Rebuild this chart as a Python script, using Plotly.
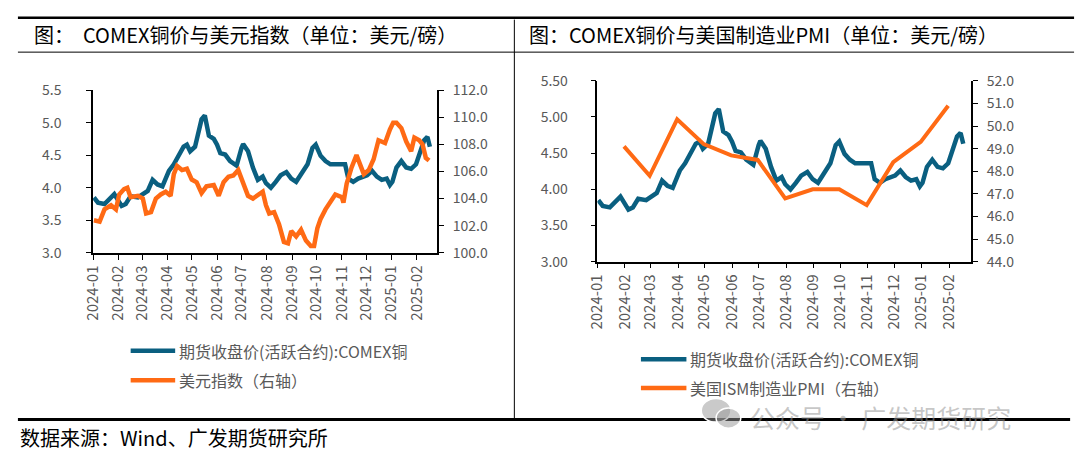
import plotly.graph_objects as go

W, H = 1080, 462

BLUE = "#0A5F80"
ORANGE = "#FF6A14"
GREY = "#595959"
FONT = "Noto Sans CJK SC"

# COMEX copper, active contract (USD/lb)
copper_dates = [
    "2024-01-02", "2024-01-07", "2024-01-15", "2024-01-23", "2024-01-27", "2024-01-31",
    "2024-02-05", "2024-02-10", "2024-02-16", "2024-02-25", "2024-03-02", "2024-03-08",
    "2024-03-14", "2024-03-20", "2024-03-26", "2024-03-30", "2024-04-03", "2024-04-09",
    "2024-04-15", "2024-04-21", "2024-04-25", "2024-04-29", "2024-05-05", "2024-05-09",
    "2024-05-13", "2024-05-17", "2024-05-22", "2024-05-28", "2024-06-01", "2024-06-05",
    "2024-06-11", "2024-06-17", "2024-06-25", "2024-07-01", "2024-07-03", "2024-07-09",
    "2024-07-15", "2024-07-21", "2024-07-27", "2024-07-31", "2024-08-06", "2024-08-12",
    "2024-08-18", "2024-08-25", "2024-08-31", "2024-09-06", "2024-09-14", "2024-09-20",
    "2024-09-26", "2024-09-30", "2024-10-06", "2024-10-12", "2024-10-18", "2024-10-26",
    "2024-11-01", "2024-11-05", "2024-11-09", "2024-11-15", "2024-11-21", "2024-12-02",
    "2024-12-08", "2024-12-14", "2024-12-20", "2024-12-26", "2024-12-30", "2025-01-02",
    "2025-01-07", "2025-01-13", "2025-01-19", "2025-01-25", "2025-01-31", "2025-02-06",
    "2025-02-10", "2025-02-14", "2025-02-17",
]
copper = [
    3.85, 3.77, 3.75, 3.85, 3.90, 3.82,
    3.72, 3.75, 3.87, 3.85, 3.90, 3.95,
    4.12, 4.05, 4.02, 4.14, 4.26, 4.36,
    4.49, 4.63, 4.66, 4.56, 4.63, 4.85,
    5.05, 5.11, 4.80, 4.75, 4.66, 4.53,
    4.51, 4.41, 4.34, 4.61, 4.67, 4.56,
    4.31, 4.12, 4.17, 4.07, 4.00, 4.09,
    4.19, 4.24, 4.14, 4.09, 4.26, 4.36,
    4.61, 4.66, 4.49, 4.41, 4.36, 4.36,
    4.36, 4.36, 4.14, 4.09, 4.14, 4.19,
    4.26, 4.17, 4.12, 4.14, 4.04, 4.09,
    4.31, 4.41, 4.31, 4.29, 4.36, 4.56,
    4.73, 4.78, 4.63,
]

# US dollar index (right axis, left chart)
dxy_dates = [
    "2024-01-02", "2024-01-09", "2024-01-15", "2024-01-23", "2024-01-29", "2024-02-02",
    "2024-02-08", "2024-02-12", "2024-02-16", "2024-02-25", "2024-03-02", "2024-03-06",
    "2024-03-12", "2024-03-18", "2024-03-24", "2024-03-30", "2024-04-05", "2024-04-09",
    "2024-04-13", "2024-04-19", "2024-04-25", "2024-05-01", "2024-05-07", "2024-05-13",
    "2024-05-19", "2024-05-28", "2024-06-03", "2024-06-09", "2024-06-15", "2024-06-21",
    "2024-06-27", "2024-07-03", "2024-07-09", "2024-07-15", "2024-07-21", "2024-07-27",
    "2024-07-31", "2024-08-04", "2024-08-10", "2024-08-16", "2024-08-22", "2024-08-27",
    "2024-08-31", "2024-09-06", "2024-09-12", "2024-09-18", "2024-09-24", "2024-09-28",
    "2024-10-02", "2024-10-06", "2024-10-12", "2024-10-18", "2024-10-24", "2024-11-01",
    "2024-11-03", "2024-11-07", "2024-11-13", "2024-11-19", "2024-11-23", "2024-11-28",
    "2024-12-04", "2024-12-10", "2024-12-16", "2024-12-24", "2024-12-30", "2025-01-03",
    "2025-01-07", "2025-01-13", "2025-01-19", "2025-01-25", "2025-01-29", "2025-02-04",
    "2025-02-08", "2025-02-12", "2025-02-16",
]
dxy = [
    102.4, 102.3, 103.2, 103.5, 103.2, 104.3,
    104.7, 104.8, 104.1, 104.2, 104.0, 102.9,
    103.0, 104.0, 104.3, 104.5, 104.2, 105.8,
    106.4, 106.1, 106.2, 105.4, 105.2, 104.4,
    104.9, 105.0, 104.2, 105.2, 105.6, 105.7,
    106.1, 105.2, 104.2, 104.0, 104.3, 104.5,
    103.5, 102.9, 103.0, 102.1, 100.8, 100.7,
    101.6, 101.2, 101.7, 100.9, 100.5, 100.5,
    101.8, 102.5, 103.2, 103.8, 104.3, 104.1,
    103.7, 105.1, 106.3, 107.2, 106.5, 105.8,
    106.1, 106.9, 108.3, 108.1, 109.1, 109.6,
    109.6, 109.2, 108.2, 107.5, 108.5, 108.3,
    108.0, 107.0, 106.8,
]

# US ISM manufacturing PMI (right axis, right chart), month-end
pmi_dates = [
    "2024-01-31", "2024-02-29", "2024-03-31", "2024-04-30", "2024-05-31", "2024-06-30",
    "2024-07-31", "2024-08-31", "2024-09-30", "2024-10-31", "2024-11-30", "2024-12-31",
    "2025-01-31",
]
pmi = [49.1, 47.8, 50.3, 49.2, 48.7, 48.5, 46.8, 47.2, 47.2, 46.5, 48.4, 49.3, 50.9]

X_RANGE = ["2024-01-01", "2025-02-26"]


def px(x):
    return x / W


def py(y):
    return 1 - y / H


fig = go.Figure()

fig.add_trace(go.Scatter(x=copper_dates, y=copper, mode="lines", xaxis="x", yaxis="y",
                         line=dict(color=BLUE, width=4.5), name="期货收盘价(活跃合约):COMEX铜"))
fig.add_trace(go.Scatter(x=dxy_dates, y=dxy, mode="lines", xaxis="x", yaxis="y2",
                         line=dict(color=ORANGE, width=4.5), name="美元指数（右轴）"))
fig.add_trace(go.Scatter(x=copper_dates, y=copper, mode="lines", xaxis="x2", yaxis="y3",
                         line=dict(color=BLUE, width=4.5), name="期货收盘价(活跃合约):COMEX铜"))
fig.add_trace(go.Scatter(x=pmi_dates, y=pmi, mode="lines", xaxis="x2", yaxis="y4",
                         line=dict(color=ORANGE, width=4), name="美国ISM制造业PMI（右轴）"))

tick_font = dict(family=FONT, size=14, color=GREY)
axis_common = dict(
    showline=True, linecolor="black", linewidth=1.5, showgrid=False, zeroline=False,
    ticks="outside", ticklen=5, tickcolor="black", tickwidth=1.2, tickfont=tick_font,
)
x_common = dict(
    axis_common, type="date", range=X_RANGE, tick0="2024-01-01", dtick="M1",
    tickformat="%Y-%m", tickangle=-90, tickfont=dict(tick_font, size=15),
)

left_dom = [px(82), px(430)]
right_dom = [px(592), px(970)]

fig.update_layout(
    xaxis=dict(x_common, domain=left_dom, anchor="y"),
    yaxis=dict(axis_common, domain=[py(252.7), py(82.7)], range=[3.0, 5.5], dtick=0.5,
               tickformat=".1f", anchor="x", ticklabelstandoff=22),
    yaxis2=dict(axis_common, domain=[py(252.7), py(82.7)], range=[100, 112], dtick=2,
                tickformat=".1f", overlaying="y", side="right", anchor="x", ticklabelstandoff=6),
    xaxis2=dict(x_common, domain=right_dom, anchor="y3"),
    yaxis3=dict(axis_common, domain=[py(262), py(73)], range=[3.0, 5.5], dtick=0.5,
                tickformat=".2f", anchor="x2", ticklabelstandoff=20),
    yaxis4=dict(axis_common, domain=[py(262), py(73)], range=[44, 52], dtick=1,
                tickformat=".1f", overlaying="y3", side="right", anchor="x2", ticklabelstandoff=6),
    width=W,
    height=H,
    margin=dict(l=0, r=0, t=0, b=0),
    paper_bgcolor="white",
    plot_bgcolor="white",
    showlegend=False,
    font=dict(family=FONT),
)

# frame lines: top rule, header rule, divider, bottom rule
shapes = [
    dict(x0=px(6), x1=px(1074), y0=py(7), y1=py(7), line=dict(color="black", width=2.5)),
    dict(x0=px(6), x1=px(1074), y0=py(43), y1=py(43), line=dict(color="black", width=1)),
    dict(x0=px(508), x1=px(508), y0=py(9), y1=py(427), line=dict(color="black", width=1)),
    dict(x0=px(6), x1=px(1070), y0=py(427), y1=py(427), line=dict(color="black", width=3)),
]

# legend samples
legend_items = [
    (120, 165, 355, BLUE, "期货收盘价(活跃合约):COMEX铜"),
    (120, 165, 386, ORANGE, "美元指数（右轴）"),
    (636, 682, 364, BLUE, "期货收盘价(活跃合约):COMEX铜"),
    (636, 682, 394, ORANGE, "美国ISM制造业PMI（右轴）"),
]
annotations = []
for x0, x1, y, color, label in legend_items:
    shapes.append(dict(x0=px(x0), x1=px(x1), y0=py(y), y1=py(y),
                       line=dict(color=color, width=4.5)))
    annotations.append(dict(x=px(x1 + 2), y=py(y), text=label, xanchor="left", yanchor="middle",
                            font=dict(family=FONT, size=16, color=GREY)))

for s in shapes:
    s.update(type="line", xref="paper", yref="paper", layer="above")

annotations += [
    dict(x=px(20), y=py(25), text="图：  COMEX铜价与美元指数（单位：美元/磅）", xanchor="left",
         yanchor="middle", font=dict(family=FONT, size=20, color="black")),
    dict(x=px(521), y=py(25), text="图：COMEX铜价与美国制造业PMI（单位：美元/磅）", xanchor="left",
         yanchor="middle", font=dict(family=FONT, size=20, color="black")),
    dict(x=px(6), y=py(446), text="数据来源：Wind、广发期货研究所", xanchor="left",
         yanchor="middle", font=dict(family=FONT, size=20, color="black")),
    dict(x=px(744), y=py(424), text="公众号 · 广发期货研究", xanchor="left", yanchor="middle",
         font=dict(family=FONT, size=25, color="rgba(150,150,150,0.55)")),
]
for a in annotations:
    a.update(xref="paper", yref="paper", showarrow=False)

# watermark icon (two bubbles)
icons = [
    dict(type="circle", x0=px(697), x1=px(727), y0=py(430), y1=py(405)),
    dict(type="circle", x0=px(712), x1=px(737), y0=py(436), y1=py(415)),
]
for c in icons:
    c.update(xref="paper", yref="paper", fillcolor="rgba(150,150,150,0.5)",
             line=dict(color="white", width=1.5), layer="above")

fig.update_layout(shapes=shapes + icons, annotations=annotations)

fig.write_html(
    "out.html",
    config={"displayModeBar": False},
    post_script="document.body.style.margin='0';document.body.style.overflow='hidden';",
)
